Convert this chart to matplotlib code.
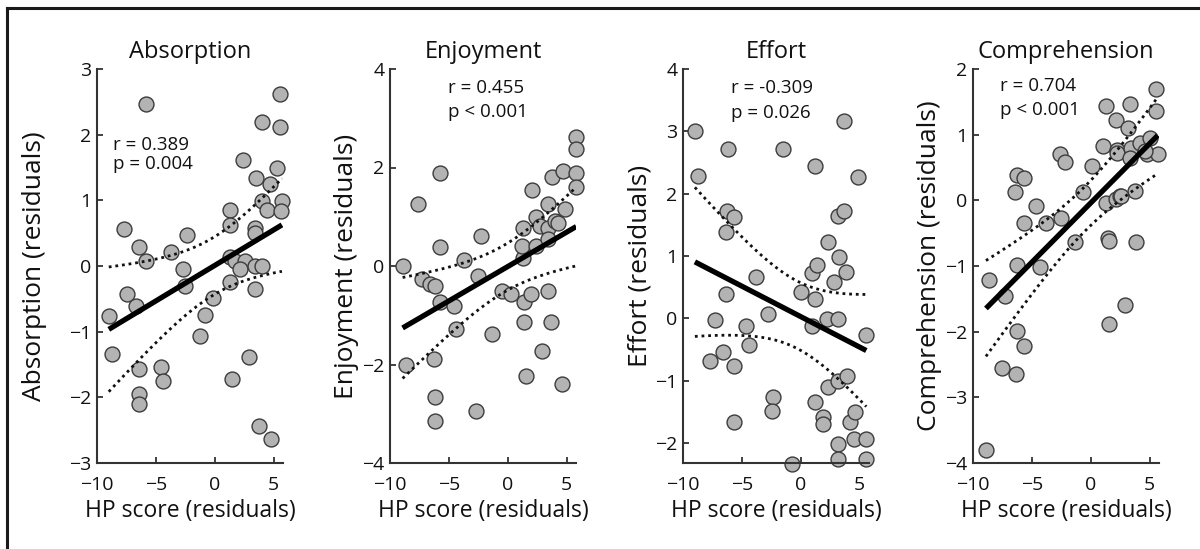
import matplotlib
matplotlib.use("Agg")
import matplotlib.pyplot as plt
import numpy as np

plt.rcParams['font.family'] = ['Open Sans', 'DejaVu Sans']

# ---- data (residuals) ----
absorption_x = [-5.8, 5.57, 4.0, 5.57, 2.37, 3.49, 5.29, 4.71, 4.0, 4.43, 5.71, 5.66,
                1.29, 1.29, 3.43, 3.43, -7.71, -6.43, -5.8, -3.71, -2.34, -2.66, -2.51,
                -7.43, -6.66, -9.0, -8.71, -6.43, -6.43, -6.43, -4.57, -4.37, -1.29,
                -0.86, -0.14, 1.29, 1.71, 2.57, 2.14, 1.34, 3.43, 4.0, 3.43, 1.51, 2.94,
                3.8, 4.77]
absorption_y = [2.47, 2.62, 2.2, 2.12, 1.61, 1.34, 1.5, 1.25, 0.99, 0.85, 0.99, 0.84,
                0.85, 0.62, 0.58, 0.5, 0.56, 0.29, 0.08, 0.22, 0.47, -0.04, -0.3,
                -0.43, -0.61, -0.76, -1.34, -1.57, -1.95, -2.1, -1.54, -1.75, -1.06,
                -0.75, -0.48, 0.13, 0.08, 0.08, -0.05, -0.25, 0.0, 0.0, -0.35, -1.72, -1.39,
                -2.43, -2.63]

enjoyment_x = [-8.93, -7.6, -5.77, -5.77, -7.32, -6.62, -6.2, -5.77, -4.59, -3.75, -2.54,
               -2.31, -4.37, -1.32, -8.65, -6.28, -6.2, -6.2, -2.68, -0.5, 0.3, 1.36, 2.0,
               3.42, 1.36, 3.7, 2.9, 1.55, 4.65, 1.3, 1.24, 1.3, 2.09, 2.37, 2.43, 2.71,
               3.42, 3.42, 3.42, 4.0, 4.26, 3.79, 4.69, 4.83, 5.76, 5.76, 5.82, 5.76]
enjoyment_y = [0.01, 1.26, 1.89, 0.39, -0.26, -0.37, -0.41, -0.74, -0.81, 0.12, -0.2,
               0.61, -1.28, -1.39, -2.01, -1.89, -2.65, -3.14, -2.94, -0.51, -0.57, -0.74,
               -0.57, -0.51, -1.13, -1.13, -1.72, -2.23, -2.4, 0.17, 0.41, 0.78, 1.54, 1.0,
               0.41, 0.81, 0.78, 0.54, 1.25, 0.91, 0.88, 1.81, 1.93, 1.15, 2.62, 2.37, 1.88,
               1.61]

effort_x = [-8.99, -8.71, -6.19, -6.27, -5.63, -6.33, -6.33, -7.31, -6.61, -7.73, -5.71,
            -5.71, -4.65, -4.43, -3.81, -2.75, -2.35, -2.46, -1.51, -0.78, 0.06, 1.23, 0.95,
            1.37, 1.23, 0.95, 2.21, 2.3, 2.83, 3.25, 3.84, 3.19, 3.19, 3.7, 3.7, 4.87, 5.57,
            1.23, 2.35, 3.19, 3.89, 1.88, 1.88, 4.17, 4.59, 3.19, 4.54, 5.57, 3.19, 5.57]
effort_y = [3.01, 2.28, 2.71, 1.73, 1.63, 1.39, 0.39, -0.03, -0.54, -0.68, -0.77,
            -1.66, -0.12, -0.42, 0.67, 0.07, -1.26, -1.48, 2.71, -2.33, 0.42, 0.31, 0.73,
            0.86, 2.44, -0.12, -0.01, 1.23, 0.58, 0.98, 0.75, -0.01, 1.64, 1.73, 3.17, 2.27,
            -0.26, -1.34, -1.1, -1.01, -0.92, -1.58, -1.7, -1.66, -1.5, -2.01, -1.93, -1.93,
            -2.25, -2.25]

comprehension_x = [-8.9, -8.64, -7.29, -7.57, -6.36, -6.3, -5.68, -6.3, -6.44, -6.3, -5.68,
                   -5.68, -4.66, -3.81, -2.49, -4.27, -2.63, -2.2, -1.36, -0.65, 0.14, 1.05,
                   1.33, 1.33, 1.47, 1.55, 1.55, 2.18, 2.23, 2.18, 2.46, 2.23, 3.3, 3.16, 3.45,
                   3.3, 4.15, 4.77, 5.0, 5.56, 5.56, 5.7, 4.58, 3.73, 2.6, 3.81, 2.88]
comprehension_y = [-3.8, -1.21, -1.46, -2.55, -2.65, -1.99, -2.22, -0.98, 0.12, 0.39, 0.34,
                   -0.35, -0.08, -0.35, -0.27, -1.02, 0.7, 0.58, -0.63, 0.12, 0.53, 0.83,
                   1.43, -0.04, -0.57, -0.62, -1.88, 1.23, 0.77, 0.02, 0.06, 0.72, 1.46, 1.1,
                   0.8, 0.64, 0.87, 0.7, 0.95, 1.69, 1.36, 0.7, 0.75, 0.14, 0.06, -0.63, -1.59]

titles = ['Absorption', 'Enjoyment', 'Effort', 'Comprehension']
ylabels = ['Absorption (residuals)', 'Enjoyment (residuals)',
           'Effort (residuals)', 'Comprehension (residuals)']
r_text = ['r = 0.389', 'r = 0.455', 'r = -0.309', 'r = 0.704']
p_text = ['p = 0.004', 'p < 0.001', 'p = 0.026', 'p < 0.001']
ylims = [(-3, 3), (-4, 4), (-2.32, 4), (-4, 2)]
yticks = [range(-3, 4), [-4, -2, 0, 2, 4], range(-2, 5), range(-4, 3)]
# where the r/p text sits (data coords: x of left edge, y of r line, y of p line)
text_pos = [(-8.6, 1.85, 1.55), (-5.1, 3.62, 3.12), (-5.9, 3.7, 3.3), (-7.7, 1.74, 1.37)]
ylabel_pad = [16, 2, 2, 2]

xs = [absorption_x, enjoyment_x, effort_x, comprehension_x]
ys = [absorption_y, enjoyment_y, effort_y, comprehension_y]

W, H = 1200, 549
fig = plt.figure(figsize=(12, 5.49), dpi=100)

# frame around the figure (top and left edges only, image is cropped)
fig.add_artist(plt.Line2D([7 / W, 7 / W], [0, 1 - 8 / H], color='#1a1a1a', lw=2.2))
fig.add_artist(plt.Line2D([7 / W, 1], [1 - 8 / H, 1 - 8 / H], color='#1a1a1a', lw=2.2))

lefts = [97, 390, 683, 973]
axw = 186
bottom = 463
top = 69

for i in range(4):
    ax = fig.add_axes([lefts[i] / W, 1 - bottom / H, axw / W, (bottom - top) / H])
    x = np.array(xs[i])
    y = np.array(ys[i])

    # least squares fit + simultaneous 95% confidence band of the fit
    slope, icpt = np.polyfit(x, y, 1)
    n = len(x)
    xx = np.linspace(x.min(), x.max(), 100)
    yy = icpt + slope * xx
    resid = y - (icpt + slope * x)
    s = np.sqrt(np.sum(resid ** 2) / (n - 2))
    sxx = np.sum((x - x.mean()) ** 2)
    crit = np.sqrt(2 * 3.2)   # sqrt(2 * F(0.95; 2, n-2))
    half = crit * s * np.sqrt(1 / n + (xx - x.mean()) ** 2 / sxx)

    ax.scatter(x, y, s=115, facecolor='#b3b3b3', edgecolor='#3c3c3c', linewidth=1.0,
               zorder=2, clip_on=False)
    ax.plot(xx, yy, color='black', lw=3.8, zorder=3, solid_capstyle='butt')
    ax.plot(xx, yy + half, color='#111111', lw=2.0, ls=(0, (1, 1.4)), zorder=3)
    ax.plot(xx, yy - half, color='#111111', lw=2.0, ls=(0, (1, 1.4)), zorder=3)

    ax.set_xlim(-10, 5.8)
    ax.set_ylim(*ylims[i])
    ax.set_xticks([-10, -5, 0, 5])
    ax.set_yticks(list(yticks[i]))
    for sp in ['top', 'right']:
        ax.spines[sp].set_visible(False)
    for sp in ['left', 'bottom']:
        ax.spines[sp].set_color('#333333')
        ax.spines[sp].set_linewidth(1.5)
    ax.tick_params(direction='in', length=4, width=1.3, color='#333333',
                   labelsize=14, labelcolor='#111111')
    ax.tick_params(axis='x', pad=9)
    ax.tick_params(axis='y', pad=4)

    ax.set_title(titles[i], fontsize=17, pad=8, color='#111111')
    ax.set_xlabel('HP score (residuals)', fontsize=16.5, labelpad=4, color='#111111')
    ax.set_ylabel(ylabels[i], fontsize=19, labelpad=ylabel_pad[i], color='#111111')

    tx, ry, py = text_pos[i]
    ax.text(tx, ry, r_text[i], fontsize=13.5, va='center', ha='left', color='#111111')
    ax.text(tx, py, p_text[i], fontsize=13.5, va='center', ha='left', color='#111111')

plt.savefig('out.png', dpi=100)
